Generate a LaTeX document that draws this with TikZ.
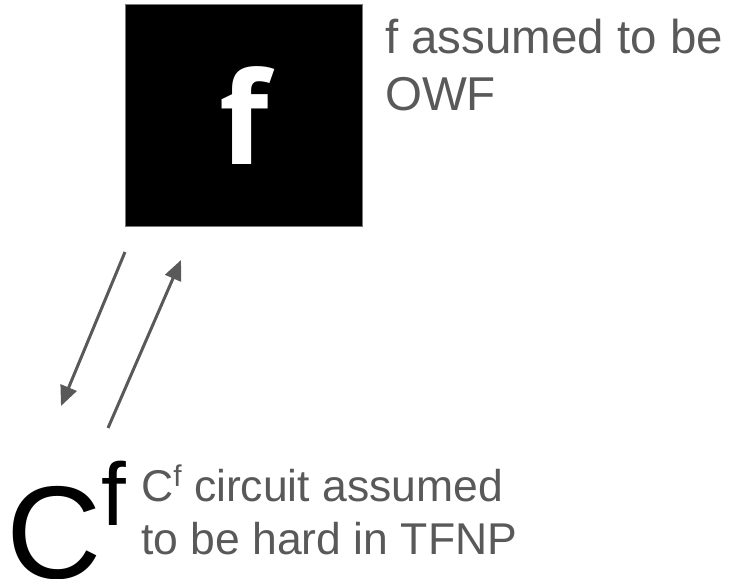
\documentclass[tikz,border=0pt]{standalone}
\usepackage{fontspec}
\setmainfont{Liberation Sans}
\newfontfamily\boxfont{Open Sans}
\usetikzlibrary{arrows.meta}
\definecolor{txtgray}{RGB}{89,89,89}
\definecolor{edgegray}{RGB}{120,120,120}
\tikzset{
  note/.style={inner sep=0pt, align=left, text=txtgray, anchor=north west},
  link/.style={draw=txtgray, line width=3pt,
    -{Triangle[length=20pt,width=17pt]}},
}
\begin{document}
\begin{tikzpicture}[x=1pt,y=-1pt]
  \useasboundingbox (0,0) rectangle (732,579);
  % the one-way function box
  \node[draw=edgegray, line width=1.5pt, fill=black, inner sep=0pt,
        minimum width=237pt, minimum height=222pt, text=white,
        font=\boxfont\bfseries\fontsize{128}{128}\selectfont]
        (fbox) at (244,115.5) {f};
  \node[note, font=\fontsize{47.5}{57}\selectfont]
        (owf) at (385,19) {f assumed to be\\OWF};
  % the circuit with oracle access to f
  \node[inner sep=0pt, anchor=base west, font=\fontsize{132}{132}\selectfont]
        (circ) at (6,578) {C\raisebox{53pt}{\fontsize{89}{89}\selectfont f}};
  \node[note, font=\fontsize{44.5}{53}\selectfont] (tfnp) at (141,465)
        {C\raisebox{15pt}{\fontsize{30}{30}\selectfont f} circuit assumed\\to be hard in TFNP};
  % queries and answers
  \coordinate (q1s) at (125,252);
  \coordinate (q1e) at (61,406);
  \coordinate (q2s) at (108,428);
  \coordinate (q2e) at (181,260);
  \draw[link] (q1s) -- (q1e);
  \draw[link] (q2s) -- (q2e);
\end{tikzpicture}
\end{document}
